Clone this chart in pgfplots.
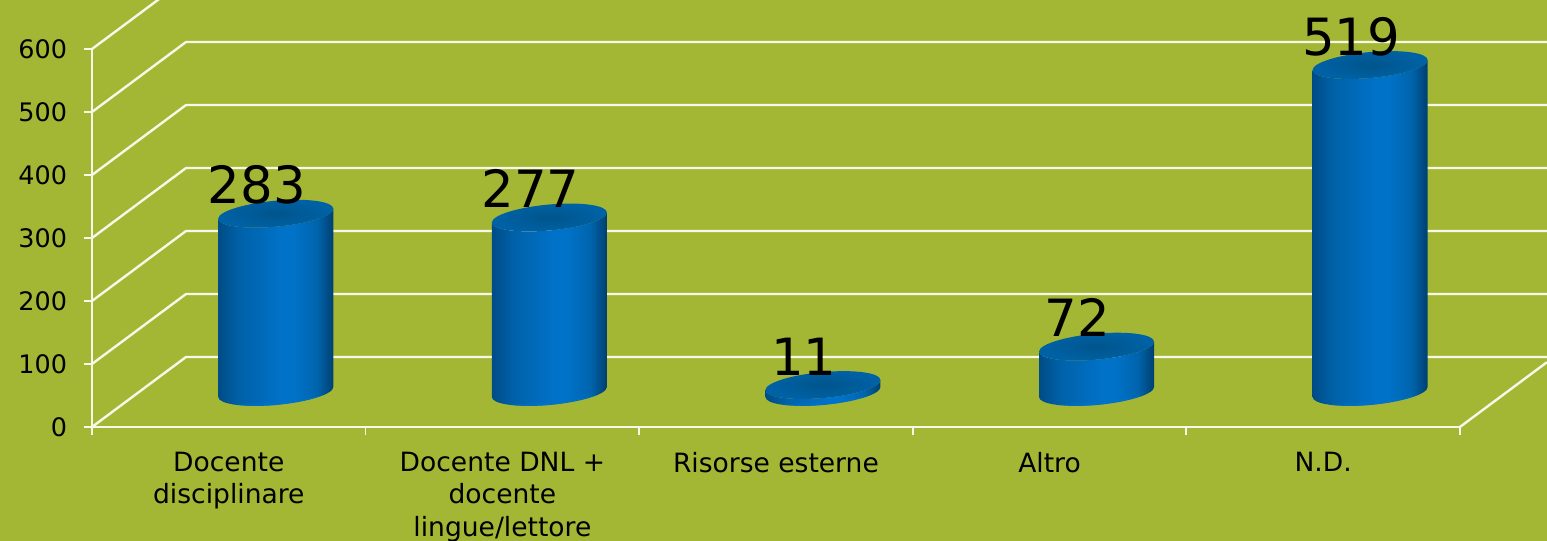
\documentclass[border=0pt]{standalone}
\usepackage{fontspec}
\setmainfont{DejaVu Sans}
\usepackage{pgfplots}
\usepackage{pgfplotstable}
\pgfplotsset{compat=1.18}
\definecolor{bgolive}{HTML}{A4B735}
\definecolor{gridw}{HTML}{F6F8E8}
\definecolor{cA}{HTML}{004C86}
\definecolor{cB}{HTML}{0061A8}
\definecolor{cC}{HTML}{0072C8}
\definecolor{cD}{HTML}{0064AC}
\definecolor{cE}{HTML}{003F70}
\definecolor{topin}{HTML}{00558C}
\definecolor{topout}{HTML}{0062A6}
\definecolor{lip}{HTML}{0072D0}
\pgfdeclarehorizontalshading{cylbody}{100bp}{color(0bp)=(cA);color(25bp)=(cA);color(34bp)=(cB);color(52bp)=(cC);color(58bp)=(cC);color(68bp)=(cD);color(75bp)=(cE);color(100bp)=(cE)}
\pgfdeclareplotmark{nil}{}
\pgfplotstableread{
x v
0 283
1 277
2 11
3 72
4 519
}\barsdata
\begin{document}
\begin{tikzpicture}[x=0.75pt,y=0.75pt]
\useasboundingbox (0pt,0pt) rectangle (1160.25pt,405.75pt);
\fill[bgolive] (0pt,0pt) rectangle (1160.25pt,405.75pt);
\clip (0pt,0pt) rectangle (1160.25pt,405.75pt);
\begin{axis}[
  at={(69pt,85.5pt)}, anchor=south west,
  scale only axis, width=1026pt, height=283.5pt,
  xmin=-0.5, xmax=4.5, ymin=0, ymax=600,
  clip=false,
  axis x line*=bottom, axis y line*=left,
  axis line style={gridw, line width=1.8pt, -},
  xtick={0,1,2,3,4},
  xticklabels={{Docente\\disciplinare},{Docente DNL +\\docente\\lingue/lettore},{Risorse esterne},{Altro},{N.D.}},
  minor xtick={-0.5,0.5,1.5,2.5,3.5,4.5},
  ytick={0,100,200,300,400,500,600},
  major x tick style={draw=none},
  minor x tick style={gridw, line width=1.3pt},
  y tick style={gridw, line width=1.3pt},
  tick align=outside,
  major tick length=6pt, minor tick length=6pt,
  /pgf/number format/assume math mode=true,
  yticklabel style={font=\fontsize{19.1}{24}\selectfont, text=black, inner sep=0pt, anchor=east, xshift=-12.5pt},
  xticklabel style={font=\fontsize{19.9}{24.4}\selectfont, text=black, align=center, anchor=north, inner sep=0pt, yshift=-12.5pt},
]
\addplot[gridw, line width=1.8pt] coordinates {(-0.5,0)(-0.1564,111.1)(4.818,111.1)};
\addplot[gridw, line width=1.8pt] coordinates {(-0.5,100)(-0.1564,211.1)(4.818,211.1)};
\addplot[gridw, line width=1.8pt] coordinates {(-0.5,200)(-0.1564,311.1)(4.818,311.1)};
\addplot[gridw, line width=1.8pt] coordinates {(-0.5,300)(-0.1564,411.1)(4.818,411.1)};
\addplot[gridw, line width=1.8pt] coordinates {(-0.5,400)(-0.1564,511.1)(4.818,511.1)};
\addplot[gridw, line width=1.8pt] coordinates {(-0.5,500)(-0.1564,611.1)(4.818,611.1)};
\addplot[gridw, line width=1.8pt] coordinates {(-0.5,600)(-0.1564,711.1)(4.818,711.1)};
\addplot[gridw, line width=1.8pt] coordinates {(4.5,0)(4.818,102.8)};
\end{axis}
\begin{axis}[
  at={(104.25pt,111.75pt)}, anchor=south west,
  scale only axis, width=1026pt, height=283.5pt,
  xmin=-0.5, xmax=4.5, ymin=0, ymax=600,
  clip=false, hide axis,
  /pgf/number format/assume math mode=true,
]
\addplot[only marks, scatter, mark=nil,
  point meta=\thisrow{v},
  visualization depends on={\thisrow{v} \as \val},
  scatter/@pre marker code/.code={%
    \pgfmathsetmacro\hh{\val*0.4725}%
    \begin{scope}[draw=none]
      \path[draw=none, shade, shading=cylbody]
        (-43.125pt,-3.75pt) -- (-43.125pt,-3.75pt-\hh pt)
        .. controls (-43.125pt,-9.135pt-\hh pt) and (-23.82pt,-11.82pt-\hh pt) .. (0pt,-9.75pt-\hh pt)
        .. controls (23.82pt,-7.68pt-\hh pt) and (43.125pt,-1.635pt-\hh pt) .. (43.125pt,3.75pt-\hh pt)
        -- (43.125pt,3.75pt)
        .. controls (43.125pt,-1.635pt) and (23.82pt,-7.68pt) .. (0pt,-9.75pt)
        .. controls (-23.82pt,-11.82pt) and (-43.125pt,-9.135pt) .. (-43.125pt,-3.75pt) -- cycle;
      \path[draw=none, fill=lip, opacity=0.55]
        (-30pt,-9.6pt-\hh pt) .. controls (-10pt,-12.07pt-\hh pt) and (15pt,-9.2pt-\hh pt) .. (36pt,-2.27pt-\hh pt)
        .. controls (15pt,-6.9pt-\hh pt) and (-10pt,-9.07pt-\hh pt) .. cycle;
      \path[draw=none, inner color=topin, outer color=topout]
        (43.125pt,3.75pt)
        .. controls (43.125pt,9.135pt) and (23.82pt,11.82pt) .. (0pt,9.75pt)
        .. controls (-23.82pt,7.68pt) and (-43.125pt,1.635pt) .. (-43.125pt,-3.75pt)
        .. controls (-43.125pt,-9.135pt) and (-23.82pt,-11.82pt) .. (0pt,-9.75pt)
        .. controls (23.82pt,-7.68pt) and (43.125pt,-1.635pt) .. (43.125pt,3.75pt) -- cycle;
    \end{scope}
    \begin{scope}},
  scatter/@post marker code/.code={\end{scope}},
] table[x=x,y=v] {\barsdata};
\addplot[only marks, mark=nil,
  point meta=\thisrow{v},
  nodes near coords,
  nodes near coords align={anchor=base},
  every node near coord/.append style={font=\fontsize{38.5}{38}\selectfont, text=black, inner sep=0pt, xshift=-14.25pt, yshift=7.5pt},
] table[x=x,y=v] {\barsdata};
\end{axis}
\end{tikzpicture}
\end{document}
